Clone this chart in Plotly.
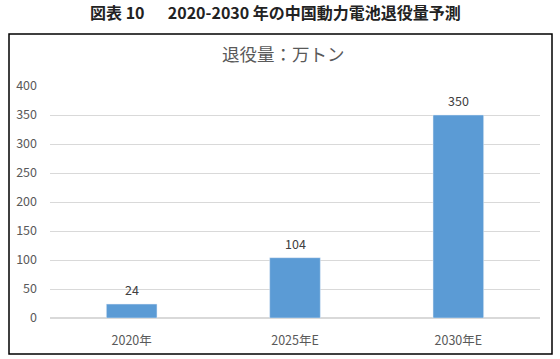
import plotly.graph_objects as go

categories = ["2020年", "2025年E", "2030年E"]
values = [24, 104, 350]
tick_vals = [0, 50, 100, 150, 200, 250, 300, 350, 400]

FONT = "Noto Sans CJK JP"
W, H = 560, 359
# plot area in page pixels
PL, PR, PT, PB = 50, 540, 86, 318
L, R, T, B = PL, W - PR, PT, H - PB
pw, ph = W - L - R, H - T - B

def px(x):
    return (x - L) / pw

def py(y):
    return (PB - y) / ph

fig = go.Figure(go.Bar(
    x=categories, y=values, width=0.31,
    marker=dict(color="#5B9BD5"),
    cliponaxis=False,
))

label_annotations = [
    dict(x=c, y=v, xref="x", yref="y", text=str(v), showarrow=False,
         xanchor="center", yanchor="bottom", yshift=3,
         font=dict(family=FONT, size=12.5, color="#404040"))
    for c, v in zip(categories, values)
]

fig.update_layout(
    width=W, height=H,
    margin=dict(l=L, r=R, t=T, b=B),
    paper_bgcolor="white", plot_bgcolor="white",
    showlegend=False,
    xaxis=dict(showgrid=False, showline=False, ticks="", automargin=False,
               tickfont=dict(family=FONT, size=12.5, color="#595959"),
               ticklabelstandoff=13),
    yaxis=dict(range=[0, 400], tickvals=tick_vals, showgrid=True,
               gridcolor="#D9D9D9", gridwidth=1, zeroline=True,
               zerolinecolor="#D9D9D9", ticks="", showline=False,
               automargin=False,
               tickfont=dict(family=FONT, size=12.5, color="#595959"),
               ticklabelstandoff=12),
    shapes=[dict(type="rect", xref="paper", yref="paper",
                 x0=px(9), x1=px(552), y0=py(354), y1=py(34),
                 line=dict(color="black", width=1.5), layer="below")],
    annotations=[
        dict(text="<b>図表 10　&nbsp;&nbsp;2020-2030 年の中国動力電池退役量予測</b>",
             xref="paper", yref="paper", x=px(275.5), y=py(12.5),
             showarrow=False, xanchor="center", yanchor="middle",
             font=dict(family=FONT, size=16, color="#222222")),
        dict(text="退役量：万トン",
             xref="paper", yref="paper", x=px(283), y=py(53.5),
             showarrow=False, xanchor="center", yanchor="middle",
             font=dict(family=FONT, size=17.5, color="#595959")),
    ] + label_annotations,
)

fig.write_html("out.html",
               config={"displayModeBar": False},
               post_script="document.body.style.margin='0';")
